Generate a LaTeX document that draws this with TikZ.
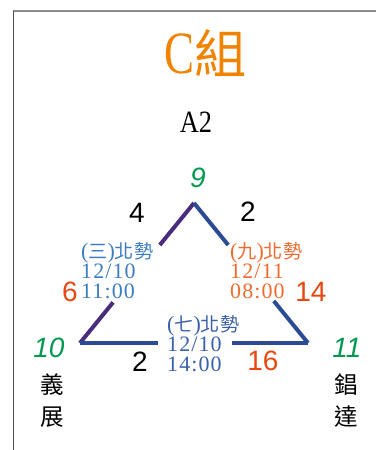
\documentclass[tikz,border=0pt]{standalone}
\usepackage{fontspec}
\usepackage{graphicx}
\setmainfont{Liberation Serif}
\newfontfamily\cjk[Scale=0.87]{Noto Sans CJK TC}
\newfontfamily\arial{Liberation Sans}
\newfontfamily\gamefont[LetterSpace=5]{Liberation Serif}
\usetikzlibrary{calc}
\definecolor{titleorange}{HTML}{F08300}
\definecolor{seedgreen}{HTML}{00994E}
\definecolor{scorered}{HTML}{E8470F}
\definecolor{gameblue}{HTML}{3D7DC0}
\definecolor{gameorange}{HTML}{EE6B30}
\definecolor{gamenavy}{HTML}{3A62A8}
\definecolor{pathpurple}{HTML}{4A2C7C}
\definecolor{pathblue}{HTML}{2B4C95}
\newcommand\zh[1]{{\cjk #1}}

\begin{document}
\begin{tikzpicture}[x=1pt,y=-1pt,
    every node/.style={inner sep=0pt},
    bignum/.style={font=\arial\fontsize{28}{28}\selectfont},
    seednum/.style={font=\arial\itshape\fontsize{28}{28}\selectfont, text=seedgreen},
    gametext/.style={anchor=west, align=left, font=\gamefont\fontsize{22}{20}\selectfont},
    teamname/.style={align=center, font=\fontsize{27}{32}\selectfont},
    pathline/.style={line width=4pt}
  ]
    \useasboundingbox (0,0) rectangle (376,450);
    \draw [gray!90, line width=1.5pt] (13,11) -- (376,11);
    \draw [black!70, line width=1pt] (13,11) -- (13,450);

    \node [text=titleorange, font=\fontsize{60}{60}\selectfont] (title) at (206,53) {\scalebox{0.75}[1]{C}\zh{組}};
    \node [font=\fontsize{31}{31}\selectfont] (pool) at (196,122) {\scalebox{0.85}[1]{A2}};

    % triangle corners
    \coordinate (top) at (194,203);
    \coordinate (left) at (80,343);
    \coordinate (right) at (308,343);

    \draw [pathline, pathpurple] (top) -- ($(top)!0.30!(left)$);
    \draw [pathline, pathpurple] ($(top)!0.71!(left)$) -- (left);
    \draw [pathline, pathblue] (top) -- ($(top)!0.30!(right)$);
    \draw [pathline, pathblue] ($(top)!0.70!(right)$) -- (right);
    \draw [pathline, pathblue] (left) -- ($(left)!0.34!(right)$);
    \draw [pathline, pathblue] ($(left)!0.667!(right)$) -- (right);

    \node [seednum] (seedtop) at (198,178) {9};
    \node [seednum] (seedleft) at (49,348) {10};
    \node [seednum] (seedright) at (347,348) {11};

    \node [bignum] (scoreA) at (137,213) {4};
    \node [bignum] (scoreB) at (248,212) {2};
    \node [bignum, text=scorered] (scoreC) at (70,292) {6};
    \node [bignum, text=scorered] (scoreD) at (311,292) {14};
    \node [bignum] (scoreE) at (140,362) {2};
    \node [bignum, text=scorered] (scoreF) at (263,361) {16};

    \node [gametext, text=gameblue] (game3) at (81,271) {(\zh{三})\zh{北勢}\\12/10\\11:00};
    \node [gametext, text=gameorange] (game9) at (230,271) {(\zh{九})\zh{北勢}\\12/11\\08:00};
    \node [gametext, text=gamenavy] (game7) at (167,344) {(\zh{七})\zh{北勢}\\12/10\\14:00};

    \node [teamname] (teamleft) at (52,401) {\zh{義}\\\zh{展}};
    \node [teamname] (teamright) at (346,401) {\zh{錩}\\\zh{達}};
  \end{tikzpicture}
\end{document}
